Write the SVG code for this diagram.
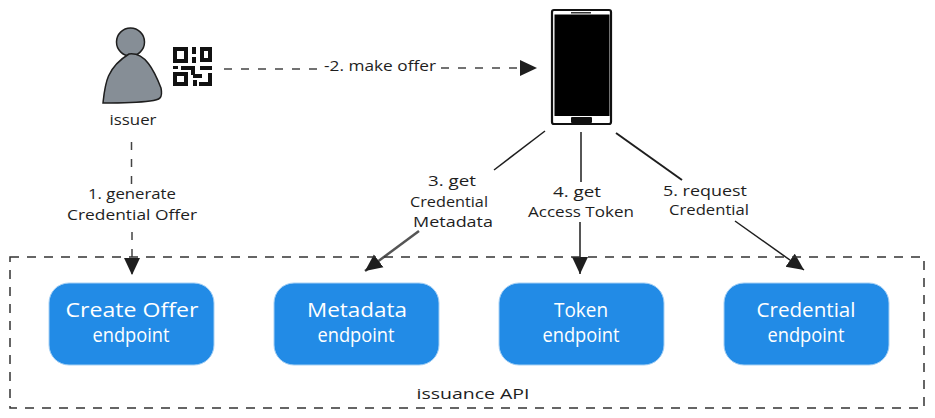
<svg xmlns="http://www.w3.org/2000/svg" width="935" height="418" viewBox="0 0 935 418">
<style>
text{font-family:"Open Sans","Liberation Sans",sans-serif;text-anchor:middle;fill:#1e1e1e}
.lbl{font-size:15px}
.box{fill:#228be6;stroke:#a5d0f5;stroke-width:1}
.name{font-size:20px;fill:#fff}
.conn{fill:none;stroke:#1e1e1e;stroke-width:1.5}
.dash{stroke-dasharray:8 9;stroke:#444}
</style>
<defs>
<marker id="arrow" markerUnits="userSpaceOnUse" markerWidth="18" markerHeight="18" refX="17" refY="9" orient="auto"><path d="M0 1L17 9L0 17Z" fill="#1e1e1e"/></marker>
</defs>
<g id="connectors">
<path class="conn dash" d="M131.500 142V185"/>
<path class="conn dash" d="M132 232V275" marker-end="url(#arrow)"/>
<path class="conn dash" d="M224 69H319"/>
<path class="conn dash" d="M441 68H537" marker-end="url(#arrow)"/>
<path class="conn" d="M545 131L494 170"/>
<path class="conn" d="M419 231L365 271" style="stroke:#555;stroke-width:2.500" marker-end="url(#arrow)"/>
<path class="conn" d="M581 132V182"/>
<path class="conn" d="M580 222V274" marker-end="url(#arrow)"/>
<path class="conn" d="M616 133L682 180" style="stroke-width:2"/>
<path class="conn" d="M735 221L804 270" marker-end="url(#arrow)"/>
</g>
<g id="issuance-api">
<rect x="10" y="257" width="914" height="151" fill="none" stroke="#333" stroke-width="1.500" stroke-dasharray="9 8"/>
<text class="lbl" x="473" y="399" textLength="113" lengthAdjust="spacingAndGlyphs">issuance API</text>
</g>
<g id="issuer">
<circle cx="130.500" cy="42" r="14" fill="#868e96" stroke="#1e1e1e" stroke-width="1.500"/>
<path d="M103 103C105 85 106 68 129 54C145 52 154 70 161 88C163 98 160 100 150 101C135 103 118 103 103 103Z" fill="#868e96" stroke="#1e1e1e" stroke-width="1.500"/>
<text class="lbl" x="133" y="125" textLength="47" lengthAdjust="spacingAndGlyphs">issuer</text>
</g>
<g id="qr" fill="#111">
<path fill-rule="evenodd" d="M173 47h15v16h-15zM177 51v8h7v-8zM200 47h12v15h-12zM204 51v7h4v-7zM173 72h15v14h-15zM177 76v6h7v-6z"/>
<path d="M192 47h4v7h-4zM192 57h4v6h-4zM173 66h5v3h-5zM181 66h13v4h-13zM191 66h4v9h-4zM200 66h12v4h-12zM193 74h9v4h-9zM193 80h4v6h-4zM199 82h10v4h-10zM208 73h4v13h-4z"/>
</g>
<g id="phone">
<rect x="552" y="10" width="59" height="114" rx="2" fill="#fff" stroke="#111" stroke-width="2.200"/>
<rect x="554.500" y="14.500" width="55" height="101.500" fill="#000"/>
<rect x="571" y="12" width="20" height="1.500" fill="#333"/>
<rect x="571" y="117" width="21" height="6" rx="1" fill="#111"/>
</g>
<g id="create-offer"><rect class="box" x="49" y="283" width="165" height="82" rx="20"/><text class="name" x="132" y="317" textLength="133" lengthAdjust="spacingAndGlyphs">Create Offer</text><text class="name" x="131" y="342" textLength="77" lengthAdjust="spacingAndGlyphs">endpoint</text></g>
<g id="metadata"><rect class="box" x="274" y="283" width="165" height="82" rx="20"/><text class="name" x="357" y="317" textLength="100" lengthAdjust="spacingAndGlyphs">Metadata</text><text class="name" x="356" y="342" textLength="77" lengthAdjust="spacingAndGlyphs">endpoint</text></g>
<g id="token"><rect class="box" x="499" y="283" width="165" height="82" rx="20"/><text class="name" x="581" y="317" textLength="54" lengthAdjust="spacingAndGlyphs">Token</text><text class="name" x="581" y="342" textLength="77" lengthAdjust="spacingAndGlyphs">endpoint</text></g>
<g id="credential"><rect class="box" x="724" y="283" width="165" height="82" rx="20"/><text class="name" x="806" y="317" textLength="99" lengthAdjust="spacingAndGlyphs">Credential</text><text class="name" x="806" y="342" textLength="77" lengthAdjust="spacingAndGlyphs">endpoint</text></g>
<g id="labels">
<text class="lbl" x="132" y="199" textLength="88" lengthAdjust="spacingAndGlyphs">1. generate</text>
<text class="lbl" x="132" y="220" textLength="130" lengthAdjust="spacingAndGlyphs">Credential Offer</text>
<text class="lbl" x="380" y="71" textLength="112" lengthAdjust="spacingAndGlyphs">-2. make offer</text>
<text class="lbl" x="452" y="186" textLength="48" lengthAdjust="spacingAndGlyphs">3. get</text>
<text class="lbl" x="449" y="207" textLength="78" lengthAdjust="spacingAndGlyphs">Credential</text>
<text class="lbl" x="453" y="227" textLength="80" lengthAdjust="spacingAndGlyphs">Metadata</text>
<text class="lbl" x="577" y="197" textLength="48" lengthAdjust="spacingAndGlyphs">4. get</text>
<text class="lbl" x="581" y="217" textLength="106" lengthAdjust="spacingAndGlyphs">Access Token</text>
<text class="lbl" x="705" y="196" textLength="84" lengthAdjust="spacingAndGlyphs">5. request</text>
<text class="lbl" x="709" y="215" textLength="80" lengthAdjust="spacingAndGlyphs">Credential</text>
</g>
</svg>
